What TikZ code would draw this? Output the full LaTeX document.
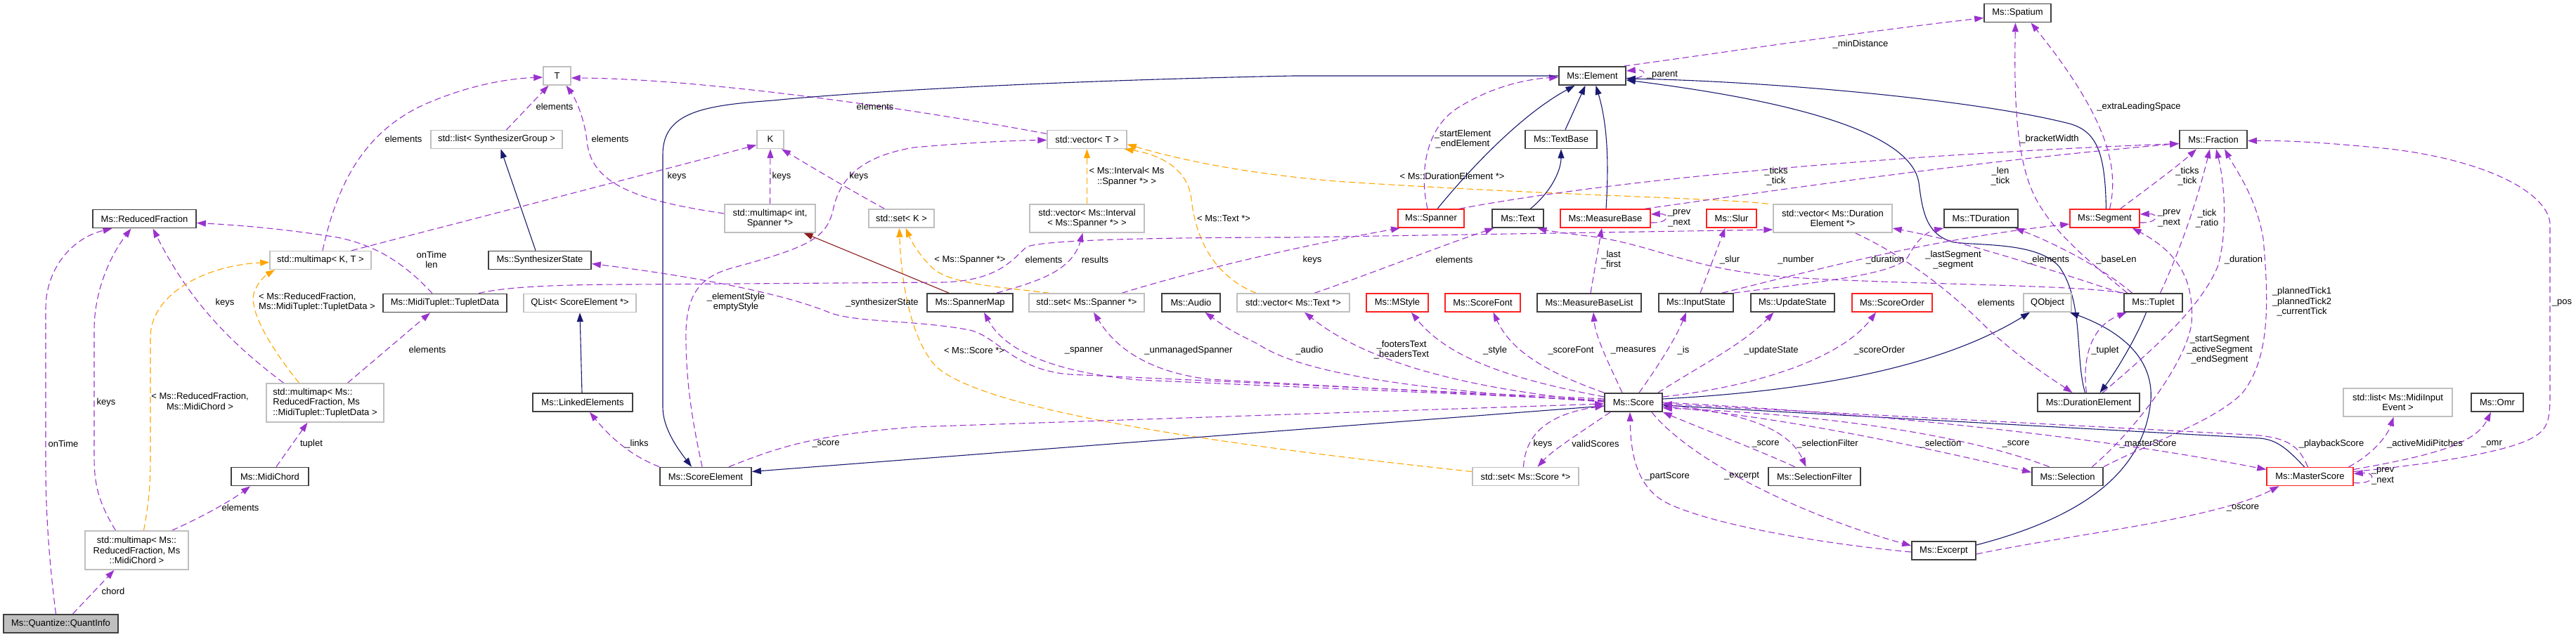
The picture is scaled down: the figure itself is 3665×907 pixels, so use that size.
\documentclass[tikz,border=0pt]{standalone}
\usepackage{fontspec}
\setmainfont{Liberation Sans}
\usetikzlibrary{arrows.meta}
\definecolor{pur}{HTML}{9A32CD}
\definecolor{nav}{HTML}{191970}
\definecolor{org}{HTML}{FFA500}
\definecolor{drd}{HTML}{8B1A1A}
\definecolor{gbx}{HTML}{BFBFBF}
\definecolor{rbx}{HTML}{FF2020}
\definecolor{bbx}{HTML}{404040}
\pgfdeclarelayer{bg}
\pgfsetlayers{bg,main}
\tikzset{
  base/.style={rectangle, minimum height=26pt, inner sep=1pt, fill=white, line width=1.4pt},
  cbox/.style={base, draw=bbx, line width=1.7pt},
  gbox/.style={base, draw=gbx},
  rbox/.style={base, draw=rbx},
  qbox/.style={base, draw=bbx, fill=gbx, line width=1.7pt},
  elbl/.style={inner sep=0pt, align=center},
  tipA/.style={-{Triangle[length=13pt,width=9pt]}},
  eUse/.style={tipA, draw=pur, line width=1.1pt, dash pattern=on 9pt off 5pt},
  eTpl/.style={tipA, draw=org, line width=1.1pt, dash pattern=on 9pt off 5pt},
  eInh/.style={tipA, draw=nav, line width=1.1pt},
  ePriv/.style={tipA, draw=drd, line width=1.1pt},
}
\begin{document}
\begin{tikzpicture}[x=1pt,y=-1pt,font=\fontsize{13pt}{14.5pt}\selectfont]
\useasboundingbox (0,0) rectangle (3665,907);
% ---------------- nodes ----------------
\node[qbox, minimum width=163pt] (qi) at (86.5,888) {Ms::Quantize::QuantInfo};
\node[cbox, minimum width=147pt] (rf) at (205.5,311.5) {Ms::ReducedFraction};
\node[gbox, minimum width=144pt] (mmkt) at (456,370.5) {std::multimap< K, T >};
\node[cbox, minimum width=176pt] (mttd) at (633,431.5) {Ms::MidiTuplet::TupletData};
\node[gbox, minimum width=167pt, minimum height=55pt, align=left] (mmrft) at (462.5,573.5) {std::multimap< Ms::\\ReducedFraction, Ms\\::MidiTuplet::TupletData >};
\node[cbox, minimum width=110pt] (mc) at (384,678.5) {Ms::MidiChord};
\node[gbox, minimum width=147pt, minimum height=55pt, align=center] (mmrfc) at (194.5,783.5) {std::multimap< Ms::\\ReducedFraction, Ms\\::MidiChord >};
\node[gbox, minimum width=39pt] (T) at (792.5,108) {T};
\node[gbox, minimum width=187pt] (lsg) at (706.5,198.5) {std::list< SynthesizerGroup >};
\node[gbox, minimum width=38pt] (K) at (1096,198.5) {K};
\node[gbox, minimum width=129pt, minimum height=40pt, align=center] (mmis) at (1095.5,311) {std::multimap< int,\\Spanner *>};
\node[cbox, minimum width=146pt] (ss) at (768,370.5) {Ms::SynthesizerState};
\node[gbox, minimum width=160pt] (ql) at (825,431.5) {QList< ScoreElement *>};
\node[cbox, minimum width=142pt] (le) at (829,573) {Ms::LinkedElements};
\node[cbox, minimum width=130pt] (se) at (1004,678.5) {Ms::ScoreElement};
\node[gbox, minimum width=113pt] (vT) at (1546.5,198.5) {std::vector< T >};
\node[gbox, minimum width=93pt] (setK) at (1282.5,311) {std::set< K >};
\node[gbox, minimum width=163pt, minimum height=40pt, align=center] (vint) at (1546.5,311) {std::vector< Ms::Interval\\< Ms::Spanner *> >};
\node[cbox, minimum width=122pt] (sm) at (1380,431) {Ms::SpannerMap};
\node[gbox, minimum width=164pt] (setsp) at (1546,431) {std::set< Ms::Spanner *>};
\node[cbox, minimum width=83pt] (audio) at (1694.5,431) {Ms::Audio};
\node[gbox, minimum width=160pt] (vtext) at (1840,431) {std::vector< Ms::Text *>};
\node[cbox, minimum width=95pt] (elem) at (2265.5,108) {Ms::Element};
\node[cbox, minimum width=102pt] (tb) at (2221,198.5) {Ms::TextBase};
\node[rbox, minimum width=94pt] (spanner) at (2036,311) {Ms::Spanner};
\node[cbox, minimum width=73pt] (text) at (2159.5,311) {Ms::Text};
\node[rbox, minimum width=128pt] (mb) at (2284,311) {Ms::MeasureBase};
\node[rbox, minimum width=71pt] (slur) at (2463.5,311) {Ms::Slur};
\node[rbox, minimum width=88pt] (mstyle) at (1988,431) {Ms::MStyle};
\node[rbox, minimum width=107pt] (sfont) at (2109.5,431) {Ms::ScoreFont};
\node[cbox, minimum width=148pt] (mbl) at (2261,431) {Ms::MeasureBaseList};
\node[cbox, minimum width=106pt] (is) at (2413,431) {Ms::InputState};
\node[cbox, minimum width=82pt] (score) at (2324,573) {Ms::Score};
\node[gbox, minimum width=151pt] (setscore) at (2170.5,678.5) {std::set< Ms::Score *>};
\node[cbox, minimum width=95pt] (spatium) at (2870.5,18.5) {Ms::Spatium};
\node[gbox, minimum width=169pt, minimum height=40pt, align=center] (vde) at (2607.5,311) {std::vector< Ms::Duration\\Element *>};
\node[cbox, minimum width=105pt] (tdur) at (2818.5,311) {Ms::TDuration};
\node[rbox, minimum width=99pt] (seg) at (2994.5,311) {Ms::Segment};
\node[cbox, minimum width=119pt] (us) at (2550.5,431) {Ms::UpdateState};
\node[rbox, minimum width=114pt] (so) at (2692,431) {Ms::ScoreOrder};
\node[gbox, minimum width=68pt] (qobj) at (2913,431) {QObject};
\node[cbox, minimum width=83pt] (tuplet) at (3063.5,431) {Ms::Tuplet};
\node[cbox, minimum width=145pt] (de) at (2971.5,573) {Ms::DurationElement};
\node[cbox, minimum width=131pt] (sf) at (2581.5,678.5) {Ms::SelectionFilter};
\node[cbox, minimum width=101pt] (sel) at (2941.5,678.5) {Ms::Selection};
\node[cbox, minimum width=91pt] (exc) at (2765.5,784) {Ms::Excerpt};
\node[cbox, minimum width=96pt] (frac) at (3149,198.5) {Ms::Fraction};
\node[rbox, minimum width=123pt] (ms) at (3286.5,678.5) {Ms::MasterScore};
\node[gbox, minimum width=155pt, minimum height=40pt, align=center] (lmie) at (3411.5,573) {std::list< Ms::MidiInput\\Event >};
\node[cbox, minimum width=74pt] (omr) at (3553,573) {Ms::Omr};
% ---------------- edges ----------------
\begin{pgfonlayer}{bg}
\draw[eUse] ([xshift=-7pt]qi.north) .. controls (70,800) and (65,730) .. (65,660) -- (65,440) .. controls (65,380) and (105,338) .. ([xshift=-46pt]rf.south);
\draw[eUse] ([xshift=-30pt]mmrfc.north) .. controls (140,715) and (134,690) .. (134,650) -- (134,470) .. controls (134,410) and (160,360) .. ([xshift=-19pt]rf.south);
\draw[eUse] ([xshift=-59pt]mmrft.north) .. controls (330,490) and (270,430) .. ([xshift=12pt]rf.south);
\draw[eTpl] ([xshift=-37pt]mmrft.north) .. controls (385,495) and (352,440) .. (362,415) .. controls (368,400) and (378,392) .. ([xshift=-65pt]mmkt.south);
\draw[eTpl] ([xshift=10pt]mmrfc.north) .. controls (212,715) and (214,690) .. (214,650) -- (214,480) .. controls (214,420) and (290,378) .. ([yshift=-3pt]mmkt.west);
\draw[eUse] ([xshift=9pt]mc.north) -- ([xshift=-25pt]mmrft.south);
\draw[eUse] ([xshift=50pt]mmrfc.north) .. controls (290,735) and (330,712) .. ([xshift=-28pt]mc.south);
\draw[eUse] ([xshift=17pt]qi.north) -- ([xshift=-32pt]mmrfc.south);
\draw[eUse] ([xshift=32pt]mmrft.north) -- ([xshift=-21pt]mttd.south);
\draw[eUse] ([xshift=-18pt]mttd.north) .. controls (580,380) and (540,350) .. (480,338) .. controls (400,325) and (330,320) .. ([yshift=-6pt]rf.east);
\draw[eUse] ([xshift=3pt]mmkt.north) .. controls (480,260) and (520,180) .. (620,142) .. controls (670,122) and (720,112) .. ([yshift=-2pt]T.west);
\draw[eUse] ([xshift=44pt]mmkt.north) .. controls (700,305) and (950,240) .. ([yshift=-8pt]K.west);
\draw[eUse] ([xshift=14pt]lsg.north) -- ([xshift=-12pt]T.south);
\draw[eUse] ([yshift=7pt]mmis.west) .. controls (900,285) and (840,260) .. (835,200) .. controls (830,160) and (815,135) .. ([xshift=13pt]T.south);
\draw[eUse] (mmis.north) -- (K.south);
\draw[eUse] ([xshift=-24pt]setK.north) .. controls (1200,265) and (1150,235) .. ([xshift=16pt]K.south);
\draw[eTpl] (vint.north) -- (vT.south);
\draw[eTpl] ([xshift=-53pt]vtext.north) .. controls (1720,390) and (1700,330) .. (1695,283) .. controls (1690,240) and (1650,220) .. ([xshift=-4pt]vT.south east);
\draw[eTpl] ([xshift=-92pt]vde.north) .. controls (2450,282) and (2200,278) .. (1900,258) .. controls (1750,245) and (1660,222) .. ([yshift=-7pt]vT.east);
\draw[eTpl] ([xshift=-53pt]setsp.north) .. controls (1420,408) and (1350,405) .. (1325,380) .. controls (1305,360) and (1295,340) .. ([xshift=6pt]setK.south);
\draw[eTpl] ([yshift=7pt]setscore.west) .. controls (1800,640) and (1400,590) .. (1330,520) .. controls (1295,480) and (1282,400) .. ([xshift=-3pt]setK.south);
\draw[eUse] ([yshift=8pt]vT.west) .. controls (1300,155) and (1000,112) .. ([yshift=-3pt]T.east);
\draw[eUse] ([xshift=-5pt]se.north) .. controls (985,600) and (975,540) .. (976,470) .. controls (978,420) and (995,395) .. (1040,382) .. controls (1150,352) and (1175,340) .. (1185,300) .. controls (1195,250) and (1230,222) .. (1300,210) .. controls (1380,203) and (1440,200) .. ([yshift=-1pt]vT.west);
\draw[ePriv] ([xshift=-30pt]sm.north) -- ([xshift=48pt]mmis.south);
\draw[eUse] ([xshift=38pt]sm.north) .. controls (1480,400) and (1525,385) .. ([xshift=-6pt]vint.south);
\draw[eUse] ([xshift=48pt]mttd.north) .. controls (720,408) and (800,405) .. (900,405) -- (1340,402) .. controls (1420,400) and (1440,370) .. (1460,352) .. controls (1480,340) and (1700,338) .. (1840,338) -- ([yshift=-16pt]vde.west);
\draw[eUse] ([xshift=50pt]setsp.north) .. controls (1700,385) and (1850,350) .. ([xshift=-44pt]spanner.south);
\draw[eUse] ([xshift=30pt]vtext.north) .. controls (1950,390) and (2050,350) .. ([xshift=-34pt]text.south);
\draw[eUse] ([xshift=-5pt]spanner.north) .. controls (2020,250) and (2025,180) .. (2080,150) .. controls (2130,120) and (2180,112) .. ([yshift=-2pt]elem.west);
\draw[eInh] ([xshift=9pt]spanner.north) .. controls (2100,230) and (2170,160) .. ([xshift=-25pt]elem.south);
\draw[eInh] ([xshift=6pt]tb.north) -- ([xshift=-10pt]elem.south);
\draw[eInh] ([xshift=1pt]mb.north) .. controls (2290,220) and (2285,170) .. ([xshift=5pt]elem.south);
\draw[eInh] ([xshift=18pt]text.north) .. controls (2210,270) and (2221,240) .. (tb.south);
\draw[eUse] ([yshift=-3pt]elem.east) .. controls (2345,114) and (2345,98) .. ([yshift=7pt]elem.east);
\draw[eUse] ([xshift=45pt]elem.north) .. controls (2450,75) and (2650,45) .. ([yshift=-7pt]spatium.west);
\draw[eInh] ([xshift=2pt]seg.north) .. controls (2995,220) and (2985,185) .. (2940,175) .. controls (2800,140) and (2500,115) .. ([yshift=-4pt]elem.east);
\draw[eInh] ([xshift=-5pt]de.north) .. controls (2952,510) and (2965,430) .. (2930,380) .. controls (2900,345) and (2820,350) .. (2780,345) .. controls (2740,335) and (2735,300) .. (2730,260) .. controls (2720,200) and (2600,150) .. ([yshift=-6pt]elem.east);
\draw[eInh] ([xshift=-10pt]tuplet.south) .. controls (3040,480) and (3010,530) .. ([xshift=16pt]de.north);
\draw[eInh] ([yshift=5pt]score.east) .. controls (2550,558) and (2750,530) .. ([xshift=-25pt]qobj.south);
\draw[eInh] ([yshift=8pt]exc.east) .. controls (2950,740) and (3050,680) .. (3060,570) .. controls (3065,500) and (3000,465) .. ([xshift=-3pt]qobj.south east);
\draw[eInh] ([xshift=-8pt]ms.north) .. controls (3255,640) and (3240,626) .. (3215,624) -- ([yshift=-4pt]score.east);
\draw[eInh] ([xshift=-1pt]le.north) -- (ql.south);
\draw[eInh] ([xshift=-6pt]ss.north) -- ([xshift=6pt]lsg.south);
\draw[eInh] (elem.west) -- (1840,108) .. controls (1500,115) and (1230,130) .. (1100,143) .. controls (1000,150) and (943,160) .. (943,220) -- (943,580) .. controls (943,610) and (965,640) .. ([xshift=-20pt]se.north);
\draw[eInh] ([yshift=-5pt]score.west) -- ([yshift=7pt]se.east);
\draw[eUse] ([xshift=33pt]se.north) .. controls (1100,640) and (1150,620) .. (1300,608) -- ([yshift=-2pt]score.west);
\draw[eUse] (se.north west) .. controls (900,650) and (870,625) .. ([xshift=10pt]le.south);
\draw[eUse] ([yshift=5pt]score.west) -- (1520,533) .. controls (1440,525) and (1420,480) .. (1380,470) .. controls (1300,455) and (1220,460) .. (1180,445) .. controls (1120,420) and (1000,395) .. ([yshift=-5pt]ss.east);
\draw[eUse] ([yshift=3pt]score.west) -- (1620,541) .. controls (1500,530) and (1430,500) .. ([xshift=20pt]sm.south);
\draw[eUse] ([yshift=2pt]score.west) -- (1720,540) .. controls (1640,530) and (1590,500) .. ([xshift=10pt]setsp.south);
\draw[eUse] ([yshift=1pt]score.west) .. controls (2000,555) and (1850,530) .. (1790,490) .. controls (1750,470) .. ([xshift=20pt]audio.south);
\draw[eUse] ([yshift=1pt]score.west) .. controls (2100,555) and (1950,520) .. ([xshift=16pt]vtext.south);
\draw[eUse] ([yshift=8pt]score.west) .. controls (2150,540) and (2060,510) .. ([xshift=20pt]mstyle.south);
\draw[eUse] (score.north west) .. controls (2200,530) and (2150,500) .. ([xshift=15pt]sfont.south);
\draw[eUse] ([xshift=-16pt]score.north) .. controls (2290,520) and (2270,480) .. ([xshift=6pt]mbl.south);
\draw[eUse] ([xshift=8pt]score.north) .. controls (2360,520) and (2385,480) .. ([xshift=-14pt]is.south);
\draw[eUse] ([xshift=-7pt]score.north east) .. controls (2420,520) and (2480,490) .. ([xshift=-27pt]us.south);
\draw[eUse] ([yshift=8pt]score.east) .. controls (2500,550) and (2620,510) .. ([xshift=-23pt]so.south);
\draw[eUse] ([xshift=-3pt]setscore.north) .. controls (2170,620) and (2200,590) .. ([yshift=-5pt]score.west);
\draw[eUse] ([xshift=-33pt]score.south) .. controls (2250,615) and (2210,640) .. ([xshift=17pt]setscore.north);
\draw[eUse] ([yshift=-2pt]exc.west) .. controls (2600,775) and (2450,750) .. (2380,720) .. controls (2330,700) and (2320,650) .. ([xshift=-5pt]score.south);
\draw[eUse] ([xshift=26pt]score.south) .. controls (2400,650) and (2550,730) .. ([yshift=7pt]exc.west);
\draw[eUse] ([yshift=-3pt]score.east) .. controls (2450,585) and (2540,600) .. ([xshift=-12pt]sf.north);
\draw[eUse] ([xshift=-28pt]sf.north) .. controls (2500,640) and (2420,610) .. (score.south east);
\draw[eUse] ([yshift=-6pt]score.east) .. controls (2550,595) and (2750,640) .. ([yshift=6pt]sel.west);
\draw[eUse] ([xshift=-26pt]sel.north) .. controls (2800,620) and (2600,590) .. ([yshift=-8pt]score.east);
\draw[eUse] (score.east) .. controls (2700,590) and (3000,625) .. ([yshift=10pt]ms.west);
\draw[eUse] ([xshift=-3pt]ms.north) .. controls (3272,640) and (3262,622) .. (3200,619) -- ([yshift=-2pt]score.east);
\draw[eUse] ([xshift=55pt]ms.north) .. controls (3370,650) and (3395,625) .. ([xshift=-6pt]lmie.south);
\draw[eUse] ([yshift=10pt]ms.east) .. controls (3450,650) and (3520,635) .. ([xshift=-9pt]omr.south);
\draw[eUse] ([yshift=7pt]ms.east) .. controls (3450,662) and (3560,645) .. (3600,625) .. controls (3625,612) and (3628,600) .. (3628,560) -- (3628,320) .. controls (3628,280) and (3550,230) .. (3400,212) .. controls (3300,202) and (3250,200) .. ([yshift=-2pt]frac.east);
\draw[eUse] ([yshift=-9pt]ms.east) .. controls (3380,690) and (3382,672) .. ([yshift=4pt]ms.east);
\draw[eUse] ([yshift=-5pt]exc.east) .. controls (2950,760) and (3150,740) .. ([xshift=-44pt]ms.south);
\draw[eUse] ([xshift=35pt]sel.north) .. controls (3030,620) and (3110,520) .. (3118,460) .. controls (3122,400) and (3100,360) .. ([xshift=-11pt]seg.south east);
\draw[eUse] (sel.north east) .. controls (3060,630) and (3150,600) .. (3190,560) .. controls (3230,510) and (3228,430) .. (3220,340) .. controls (3210,280) and (3180,240) .. ([xshift=16pt]frac.south);
\draw[eUse] ([xshift=20pt]de.north) .. controls (3060,500) and (3130,440) .. (3155,380) .. controls (3170,330) and (3165,260) .. ([xshift=4pt]frac.south);
\draw[eUse] ([xshift=-3pt]de.north) .. controls (2962,510) and (2975,465) .. ([xshift=-38pt]tuplet.south);
\draw[eUse] ([xshift=32pt]vde.south) .. controls (2720,370) and (2780,420) .. (2830,470) .. controls (2880,515) and (2920,540) .. ([xshift=-23pt]de.north);
\draw[eUse] ([xshift=-46pt]tuplet.north) .. controls (2920,385) and (2800,345) .. ([yshift=-14pt]vde.east);
\draw[eUse] ([xshift=-30pt]tuplet.north) .. controls (2990,380) and (2920,345) .. ([xshift=-5pt]tdur.south east);
\draw[eUse] ([xshift=10pt]tuplet.north) .. controls (3100,360) and (3125,290) .. ([xshift=-5pt]frac.south);
\draw[eUse] ([xshift=-37pt]tuplet.north) .. controls (2970,370) and (2920,330) .. (2895,280) .. controls (2870,230) and (2865,150) .. ([xshift=-3pt]spatium.south);
\draw[eUse] (tuplet.north west) .. controls (2950,405) and (2700,405) .. (2550,395) .. controls (2400,385) and (2350,345) .. (2250,335) .. controls (2220,331) and (2200,328) .. ([xshift=28pt]text.south);
\draw[eUse] ([xshift=22pt]seg.north) .. controls (3060,265) and (3100,235) .. ([xshift=-24pt]frac.south);
\draw[eUse] ([yshift=-6pt]seg.east) .. controls (3072,318) and (3072,304) .. ([yshift=6pt]seg.east);
\draw[eUse] ([xshift=7pt]seg.north) .. controls (3015,240) and (3000,170) .. ([xshift=19pt]spatium.south);
\draw[eUse] ([xshift=37pt]is.north) .. controls (2600,380) and (2750,340) .. ([yshift=-8pt]seg.west);
\draw[eUse] (is.north east) .. controls (2600,400) and (2700,390) .. (2715,365) .. controls (2725,345) and (2740,330) .. (tdur.south west);
\draw[eUse] ([xshift=6pt]is.north) -- ([xshift=-9pt]slur.south);
\draw[eUse] ([xshift=40pt]spanner.north) .. controls (2300,255) and (2700,220) .. ([yshift=-6pt]frac.west);
\draw[eUse] ([xshift=56pt]mb.north) .. controls (2500,275) and (2800,230) .. ([yshift=-6pt]frac.west);
\draw[eUse] ([yshift=-6pt]mb.east) .. controls (2376,318) and (2376,304) .. ([yshift=6pt]mb.east);
\draw[eUse] ([xshift=2pt]mbl.north) -- ([xshift=-5pt]mb.south);
\end{pgfonlayer}
% ---------------- labels ----------------
\node[elbl] (l1) at (90,632) {onTime};
\node[elbl] (l2) at (151,573) {keys};
\node[elbl] (l3) at (284.5,571.5) {< Ms::ReducedFraction,\\Ms::MidiChord >};
\node[elbl] (l4) at (320,431) {keys};
\node[elbl, align=left, anchor=west] (l5) at (368,430) {< Ms::ReducedFraction,\\Ms::MidiTuplet::TupletData >};
\node[elbl] (l6) at (443,632) {tuplet};
\node[elbl] (l7) at (342,723) {elements};
\node[elbl] (l8) at (161,842) {chord};
\node[elbl] (l9) at (608,498) {elements};
\node[elbl] (l10) at (614,370) {onTime\\len};
\node[elbl] (l11) at (574,198) {elements};
\node[elbl] (l12) at (789,152) {elements};
\node[elbl] (l13) at (868,198) {elements};
\node[elbl] (l14) at (963,251) {keys};
\node[elbl] (l15) at (1112,251) {keys};
\node[elbl] (l16) at (1222,251) {keys};
\node[elbl] (l17) at (1047,430) {\_elementStyle\\emptyStyle};
\node[elbl] (l18) at (1255,431) {\_synthesizerState};
\node[elbl] (l19) at (906,632) {\_links};
\node[elbl] (l20) at (1175,632) {\_score};
\node[elbl] (l21) at (1245,152) {elements};
\node[elbl] (l22) at (1603,251.5) {< Ms::Interval< Ms\\::Spanner *> >};
\node[elbl] (l23) at (1741,311) {< Ms::Text *>};
\node[elbl] (l24) at (1380,370) {< Ms::Spanner *>};
\node[elbl] (l25) at (1485,370) {elements};
\node[elbl] (l26) at (1558,370) {results};
\node[elbl] (l27) at (1386,499) {< Ms::Score *>};
\node[elbl] (l28) at (1542,499) {\_spanner};
\node[elbl] (l29) at (1691,499) {\_unmanagedSpanner};
\node[elbl] (l30) at (2365,107) {\_parent};
\node[elbl] (l31) at (2081,198) {\_startElement\\\_endElement};
\node[elbl] (l32) at (2066,251) {< Ms::DurationElement *>};
\node[elbl] (l33) at (2389,311) {\_prev\\\_next};
\node[elbl] (l34) at (1867,370) {keys};
\node[elbl] (l35) at (2069,370) {elements};
\node[elbl] (l36) at (2292,370) {\_last\\\_first};
\node[elbl] (l37) at (2461,370) {\_slur};
\node[elbl] (l38) at (1863,499) {\_audio};
\node[elbl] (l39) at (1994,498) {\_footersText\\\_headersText};
\node[elbl] (l40) at (2127,499) {\_style};
\node[elbl] (l41) at (2235,499) {\_scoreFont};
\node[elbl] (l42) at (2324,499) {\_measures};
\node[elbl] (l43) at (2395,499) {\_is};
\node[elbl] (l44) at (2195,632) {keys};
\node[elbl] (l45) at (2270,632) {validScores};
\node[elbl] (l46) at (2372,678) {\_partScore};
\node[elbl] (l47) at (2647,63) {\_minDistance};
\node[elbl] (l48) at (3043,152) {\_extraLeadingSpace};
\node[elbl] (l49) at (2916,198) {\_bracketWidth};
\node[elbl] (l50) at (2527,251) {\_ticks\\\_tick};
\node[elbl] (l51) at (2846,251) {\_len\\\_tick};
\node[elbl] (l52) at (2555,370) {\_number};
\node[elbl] (l53) at (2682,370) {\_duration};
\node[elbl] (l54) at (2779,370) {\_lastSegment\\\_segment};
\node[elbl] (l55) at (2914,370) {\_elements};
\node[elbl] (l56) at (3011,370) {\_baseLen};
\node[elbl] (l57) at (2840,431) {elements};
\node[elbl] (l58) at (2520,499) {\_updateState};
\node[elbl] (l59) at (2674,499) {\_scoreOrder};
\node[elbl] (l60) at (2995,499) {\_tuplet};
\node[elbl] (l61) at (2512,632) {\_score};
\node[elbl] (l62) at (2600,632) {\_selectionFilter};
\node[elbl] (l63) at (2761,632) {\_selection};
\node[elbl] (l64) at (2868,632) {\_score};
\node[elbl] (l65) at (3056,632) {\_masterScore};
\node[elbl] (l66) at (2478,678) {\_excerpt};
\node[elbl] (l67) at (3112,251) {\_ticks\\\_tick};
\node[elbl] (l68) at (3086,311) {\_prev\\\_next};
\node[elbl] (l69) at (3140,311) {\_tick\\\_ratio};
\node[elbl] (l70) at (3192,370) {\_duration};
\node[elbl] (l71) at (3275,430) {\_plannedTick1\\\_plannedTick2\\\_currentTick};
\node[elbl] (l72) at (3645,431) {\_pos};
\node[elbl] (l73) at (3158,498) {\_startSegment\\\_activeSegment\\\_endSegment};
\node[elbl] (l74) at (3317,632) {\_playbackScore};
\node[elbl] (l75) at (3450,632) {\_activeMidiPitches};
\node[elbl] (l76) at (3545,632) {\_omr};
\node[elbl] (l77) at (3390,678) {\_prev\\\_next};
\node[elbl] (l78) at (3191,723) {\_oscore};
\end{tikzpicture}
\end{document}
